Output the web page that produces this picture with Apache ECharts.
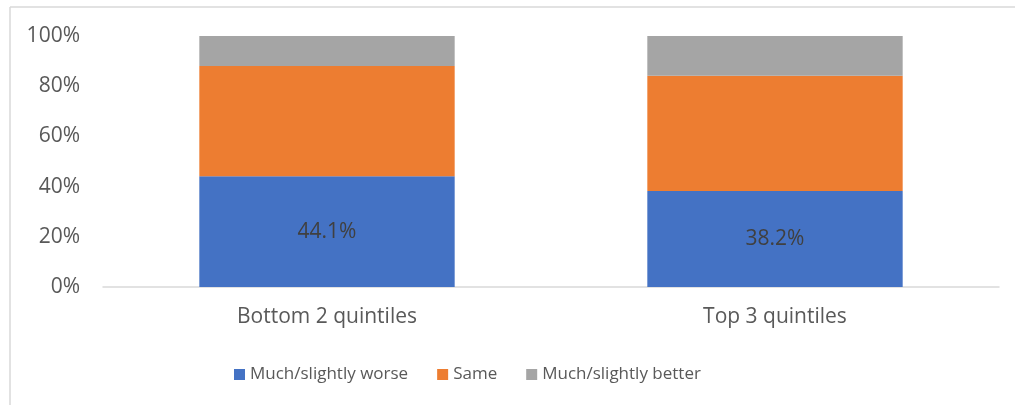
<!DOCTYPE html>
<html>
<head>
<meta charset="utf-8">
<script src="https://cdn.jsdelivr.net/npm/echarts@6/dist/echarts.min.js"></script>
<style>
  html, body { margin: 0; padding: 0; background: #fff; }
  #chart { width: 1015px; height: 405px; }
</style>
</head>
<body>
<div id="chart"></div>
<script>
// Share of respondents by income group (percent)
const categories = ['Bottom 2 quintiles', 'Top 3 quintiles'];
const seriesNames = ['Much/slightly worse', 'Same', 'Much/slightly better'];
const worse = [44.1, 38.2];
const same = [43.9, 46.0];
const better = [12.0, 15.8];
const yTicks = [0, 20, 40, 60, 80, 100];

const colors = ['#4472C4', '#ED7D31', '#A5A5A5'];
const FONT = '"Open Sans", "Noto Sans", sans-serif';

const chart = echarts.init(document.getElementById('chart'), null, { renderer: 'canvas' });

function barSeries(name, values, color, showLabel) {
  return {
    name: name,
    type: 'bar',
    stack: 'total',
    data: values,
    barWidth: '57%',
    itemStyle: { color: color },
    label: {
      show: showLabel,
      position: 'inside',
      formatter: p => p.value.toFixed(1) + '%',
      color: '#404040',
      fontFamily: FONT,
      fontSize: 21
    },
    emphasis: { disabled: true }
  };
}

chart.setOption({
  animation: false,
  backgroundColor: '#ffffff',
  textStyle: { fontFamily: FONT },
  graphic: [
    // outer frame (top and left edges)
    { type: 'line', shape: { x1: 10, y1: 7, x2: 1015, y2: 7 }, style: { stroke: '#d9d9d9', lineWidth: 1.5 } },
    { type: 'line', shape: { x1: 10, y1: 7, x2: 10, y2: 405 }, style: { stroke: '#d9d9d9', lineWidth: 1.5 } }
  ],
  grid: { left: 103, right: 16, top: 36, bottom: 118 },
  legend: {
    data: seriesNames,
    left: 229,
    top: 361,
    itemWidth: 11,
    itemHeight: 11,
    itemGap: 29,
    icon: 'rect',
    textStyle: { color: '#595959', fontFamily: FONT, fontSize: 17 }
  },
  xAxis: {
    type: 'category',
    data: categories,
    axisLine: { lineStyle: { color: '#d9d9d9', width: 1.5 } },
    axisTick: { show: false },
    axisLabel: { color: '#595959', fontFamily: FONT, fontSize: 21, margin: 20 }
  },
  yAxis: {
    type: 'value',
    min: yTicks[0],
    max: yTicks[yTicks.length - 1],
    interval: yTicks[1] - yTicks[0],
    axisLine: { show: false },
    axisTick: { show: false },
    splitLine: { show: false },
    axisLabel: {
      color: '#595959', fontFamily: FONT, fontSize: 21, margin: 23,
      formatter: v => v + '%'
    }
  },
  series: [
    barSeries(seriesNames[0], worse, colors[0], true),
    barSeries(seriesNames[1], same, colors[1], false),
    barSeries(seriesNames[2], better, colors[2], false)
  ]
});
</script>
</body>
</html>
